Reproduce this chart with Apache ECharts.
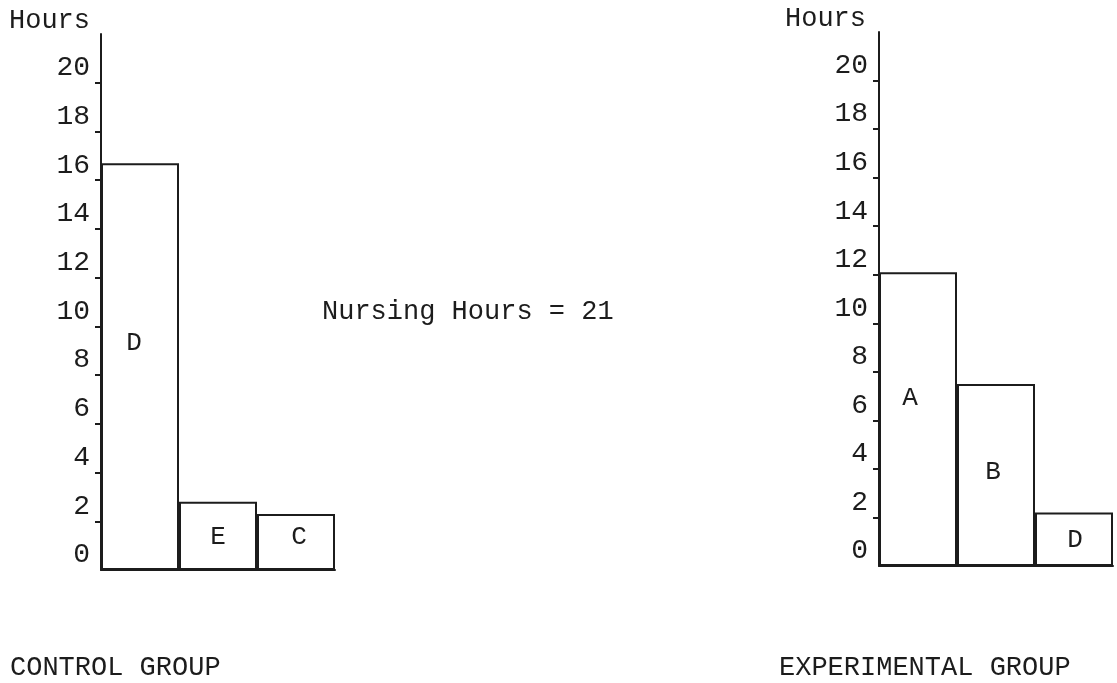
<!DOCTYPE html>
<html>
<head>
<meta charset="utf-8">
<title>Nursing Hours</title>
<script src="https://cdn.jsdelivr.net/npm/echarts@6/dist/echarts.min.js"></script>
<style>
  html, body { margin: 0; padding: 0; background: #fff; }
  #chart { width: 1117px; height: 683px; }
</style>
</head>
<body>
<div id="chart"></div>
<script>
// data
const controlCats = ['D', 'E', 'C']
const controlHours = [16.7, 2.8, 2.3]
const experimentalCats = ['A', 'B', 'D']
const experimentalHours = [12.1, 7.5, 2.2]
const yLabelValues = [0, 2, 4, 6, 8, 10, 12, 14, 16, 18, 20]
const yTickValues = [2, 4, 6, 8, 10, 12, 14, 16, 18, 20]
const totalHours = 21

const ink = '#1c1c1c'
const font = 'Liberation Mono'

// small nudges so the bar letters sit where they were typed
const controlLabelOffsets = [[-6, -23], [0, 1], [3, -5]]
const experimentalLabelOffsets = [[-8, -21], [-3, -3], [1, 1]]

function yAxis(gridIndex, nameRight) {
  return {
    type: 'value',
    gridIndex: gridIndex,
    min: 0,
    max: 22,
    name: 'Hours',
    nameLocation: 'end',
    nameGap: 0,
    nameTextStyle: {
      color: ink, fontFamily: font, fontSize: 27,
      align: 'right', padding: [0, nameRight, 0, 0]
    },
    splitLine: { show: false },
    axisLine: { show: true, lineStyle: { color: ink, width: 2 } },
    axisTick: {
      show: true, inside: false, length: 6,
      customValues: yTickValues,
      lineStyle: { color: ink, width: 2 }
    },
    axisLabel: {
      customValues: yLabelValues,
      margin: 11,
      color: ink, fontFamily: font, fontSize: 28,
      verticalAlign: 'bottom', lineHeight: 28,
      padding: [0, 0, 1, 0]
    }
  }
}

function xAxis(gridIndex, cats) {
  return {
    type: 'category',
    gridIndex: gridIndex,
    data: cats,
    axisLine: { show: true, lineStyle: { color: ink, width: 2 } },
    axisTick: { show: false },
    axisLabel: { show: false }
  }
}

function barSeries(idx, values, offsets) {
  return {
    type: 'bar',
    xAxisIndex: idx,
    yAxisIndex: idx,
    barWidth: '100%',
    barCategoryGap: 0,
    data: values.map(function (v, i) {
      return { value: v, label: { offset: offsets[i] } }
    }),
    itemStyle: { color: '#fff', borderColor: ink, borderWidth: 2 },
    label: {
      show: true,
      position: 'inside',
      color: ink, fontFamily: font, fontSize: 26,
      formatter: function (p) { return p.name }
    },
    silent: true
  }
}

const myChart = echarts.init(document.getElementById('chart'))
const option = {
  backgroundColor: '#fff',
  animation: false,
  grid: [
    { left: 101, top: 34, width: 234, height: 536 },
    { left: 879, top: 32, width: 234, height: 534 }
  ],
  xAxis: [xAxis(0, controlCats), xAxis(1, experimentalCats)],
  yAxis: [yAxis(0, 11), yAxis(1, 13)],
  series: [
    barSeries(0, controlHours, controlLabelOffsets),
    barSeries(1, experimentalHours, experimentalLabelOffsets)
  ],
  graphic: [
    {
      type: 'text', left: 322, top: 298,
      style: { text: 'Nursing Hours = ' + totalHours, fill: ink, font: '27px "' + font + '"' }
    },
    {
      type: 'text', left: 10, top: 654,
      style: { text: 'CONTROL GROUP', fill: ink, font: '27px "' + font + '"' }
    },
    {
      type: 'text', left: 779, top: 654,
      style: { text: 'EXPERIMENTAL GROUP', fill: ink, font: '27px "' + font + '"' }
    }
  ]
}
myChart.setOption(option)
</script>
</body>
</html>
